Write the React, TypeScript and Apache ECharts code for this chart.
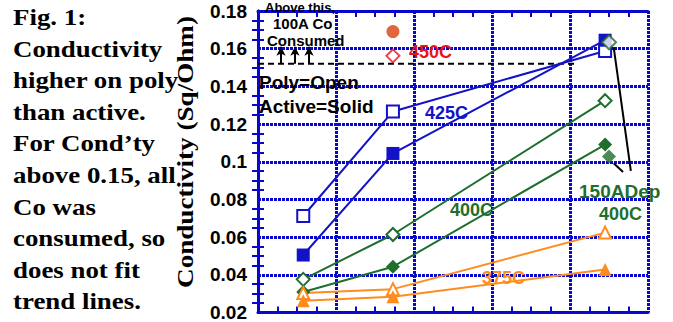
import React, { useEffect, useRef } from 'react';
import * as echarts from 'echarts';

// ---- data ----
const xPositions = [0.58, 1.73, 4.45];
const poly425 = [0.0712, 0.1267, 0.1588];
const active425 = [0.0505, 0.1044, 0.1645];
const poly400 = [0.0376, 0.0614, 0.1324];
const active400 = [0.0309, 0.0443, 0.1091];
const poly375 = [0.0303, 0.0324, 0.0624];
const active375 = [0.0262, 0.0283, 0.0428];
const x450 = 1.73;
const poly450 = 0.1562;
const active450 = 0.1691;
const xDep150 = 4.5;
const polyDep150 = 0.1634;
const activeDep150 = 0.1028;
const consumedThreshold = 0.152;
const thresholdEndX = 4.1;
const arrowXs = [0.295, 0.474, 0.654];
const arrowTop = 0.161;
const leader1 = [[4.56, 0.1608], [4.78, 0.0951]];
const leader2 = [[4.56, 0.0992], [4.68, 0.0946]];
const yMin = 0.02;
const yMax = 0.18;
const yStep = 0.02;
const xMin = 0;
const xMax = 5;
const xStep = 1;
const noteLines = [
  'Fig. 1:',
  'Conductivity',
  'higher on poly',
  'than active.',
  'For Cond\u2019ty',
  'above 0.15, all',
  'Co was',
  'consumed, so',
  'does not fit',
  'trend lines.',
];

const BLUE = '#1212c8';
const GRID = '#0808cc';
const GREEN = '#1f6e2c';
const ORANGE = '#ff8c1e';
const RED = '#e8141c';
const REDDOT = '#d8400c';

function lineSeries(name: string, ys: number[], color: string, symbol: string, filled: boolean, size: number) {
  return {
    type: 'line',
    name,
    data: xPositions.map((x, i) => [x, ys[i]]),
    symbol,
    symbolSize: size,
    showSymbol: true,
    lineStyle: { color, width: 2 },
    itemStyle: { color: filled ? color : '#ffffff', borderColor: color, borderWidth: filled ? 0 : 2 },
    emphasis: { disabled: true },
    z: 4,
  };
}

function point(name: string, x: number, y: number, color: string, symbol: string, filled: boolean, size: number) {
  return {
    type: 'scatter',
    name,
    data: [[x, y]],
    symbol,
    symbolSize: size,
    itemStyle: { color: filled ? color : '#ffffff', borderColor: color, borderWidth: filled ? 0 : 2 },
    emphasis: { disabled: true },
    z: 5,
  };
}

const minor = { show: true, splitNumber: 4, length: 6, lineStyle: { color: GRID, width: 2 } };

export default function App() {
  const ref = useRef<HTMLDivElement>(null);
  useEffect(() => {
    if (!ref.current) return;
    const chart = echarts.init(ref.current, undefined, { renderer: 'svg' });
    const xBase = {
      type: 'value',
      min: xMin,
      max: xMax,
      interval: xStep,
      axisLabel: { show: false },
      axisLine: { show: true, lineStyle: { color: GRID, width: 3 } },
      axisTick: { show: false, inside: true },
      minorTick: minor,
    };
    const yBase = {
      type: 'value',
      min: yMin,
      max: yMax,
      interval: yStep,
      axisLine: { show: true, lineStyle: { color: GRID, width: 3 } },
      axisTick: { show: false, inside: true },
      minorTick: minor,
    };
    const graphics: any[] = [];
    noteLines.forEach((t, i) => {
      graphics.push({
        type: 'text',
        x: 13,
        y: 17 + i * 31.6,
        scaleX: 1.12,
        style: { text: t, font: 'bold 24px "Liberation Serif"', fill: '#000', align: 'left', verticalAlign: 'middle' },
      });
    });
    graphics.push({
      type: 'text',
      x: 185,
      y: 152,
      rotation: Math.PI / 2,
      scaleX: 1.13,
      style: { text: 'Conductivity (Sq/Ohm)', font: 'bold 24px "Liberation Serif"', fill: '#000', align: 'center', verticalAlign: 'middle' },
    });
    const annot = (text: string, x: number, y: number, size: number, fill: string) => ({
      type: 'text',
      x,
      y,
      z: 10,
      style: { text, font: `bold ${size}px "Liberation Sans"`, fill, align: 'left', verticalAlign: 'middle' },
    });
    graphics.push(annot('Above this,', 265, 7, 13, '#000'));
    graphics.push(annot('100A Co', 273, 23, 15, '#000'));
    graphics.push(annot('Consumed', 267, 40, 15, '#000'));
    graphics.push(annot('Poly=Open', 259, 82, 19, '#000'));
    graphics.push(annot('Active=Solid', 259, 106, 19, '#000'));
    graphics.push(annot('450C', 409, 52, 18, RED));
    graphics.push(annot('425C', 425, 113, 18, BLUE));
    graphics.push(annot('400C', 450, 210, 18, GREEN));
    graphics.push(annot('375C', 482, 278, 18, ORANGE));
    graphics.push(annot('150ADep', 579, 191, 19, GREEN));
    graphics.push(annot('400C', 599, 214, 18, GREEN));

    chart.setOption({
      animation: false,
      backgroundColor: '#ffffff',
      grid: { left: 258, right: 25, top: 11, bottom: 2 },
      xAxis: [
        { ...xBase, position: 'bottom', splitLine: { show: true, lineStyle: { color: GRID, width: 3, type: [3, 1] } } },
        { ...xBase, position: 'top', splitLine: { show: false } },
      ],
      yAxis: [
        {
          ...yBase,
          position: 'left',
          splitLine: { show: true, lineStyle: { color: GRID, width: 3, type: [3, 1] } },
          axisLabel: {
            show: true,
            margin: 11,
            color: '#000',
            fontFamily: 'Liberation Sans',
            fontWeight: 'bold',
            fontSize: 19,
            formatter: (v: number) => String(Math.round(v * 100) / 100),
          },
        },
        { ...yBase, position: 'right', axisLabel: { show: false }, splitLine: { show: false } },
      ],
      series: [
        {
          type: 'line',
          name: 'threshold',
          data: [[xMin, consumedThreshold], [thresholdEndX, consumedThreshold]],
          symbol: 'none',
          lineStyle: { color: '#000', width: 2, type: [6, 4] },
          emphasis: { disabled: true },
          z: 3,
          markLine: {
            silent: true,
            symbol: ['none', 'arrow'],
            symbolSize: [7, 9],
            lineStyle: { color: '#000', width: 2, type: 'solid' },
            label: { show: false },
            emphasis: { disabled: true },
            data: arrowXs.map((x) => [{ coord: [x, consumedThreshold] }, { coord: [x, arrowTop] }]),
          },
        },
        { type: 'line', name: 'leader1', data: leader1, symbol: 'none', lineStyle: { color: '#000', width: 2 }, z: 3, emphasis: { disabled: true } },
        { type: 'line', name: 'leader2', data: leader2, symbol: 'none', lineStyle: { color: '#000', width: 2 }, z: 3, emphasis: { disabled: true } },
        lineSeries('425C poly', poly425, BLUE, 'rect', false, 12),
        lineSeries('425C active', active425, BLUE, 'rect', true, 13),
        lineSeries('400C poly', poly400, GREEN, 'diamond', false, 13),
        lineSeries('400C active', active400, GREEN, 'diamond', true, 14),
        lineSeries('375C poly', poly375, ORANGE, 'triangle', false, 12),
        lineSeries('375C active', active375, ORANGE, 'triangle', true, 13),
        point('450C poly', x450, poly450, RED, 'diamond', false, 13),
        point('450C active', x450, active450, REDDOT, 'circle', true, 13),
        point('150ADep poly', xDep150, polyDep150, GREEN, 'diamond', false, 14),
        point('150ADep active', xDep150, activeDep150, GREEN, 'diamond', true, 14),
      ],
      graphic: graphics,
    });
    return () => chart.dispose();
  }, []);
  return (
    <div
      ref={ref}
      style={{ position: 'absolute', left: 0, top: 0, width: 673, height: 322, background: '#fff' }}
    />
  );
}
